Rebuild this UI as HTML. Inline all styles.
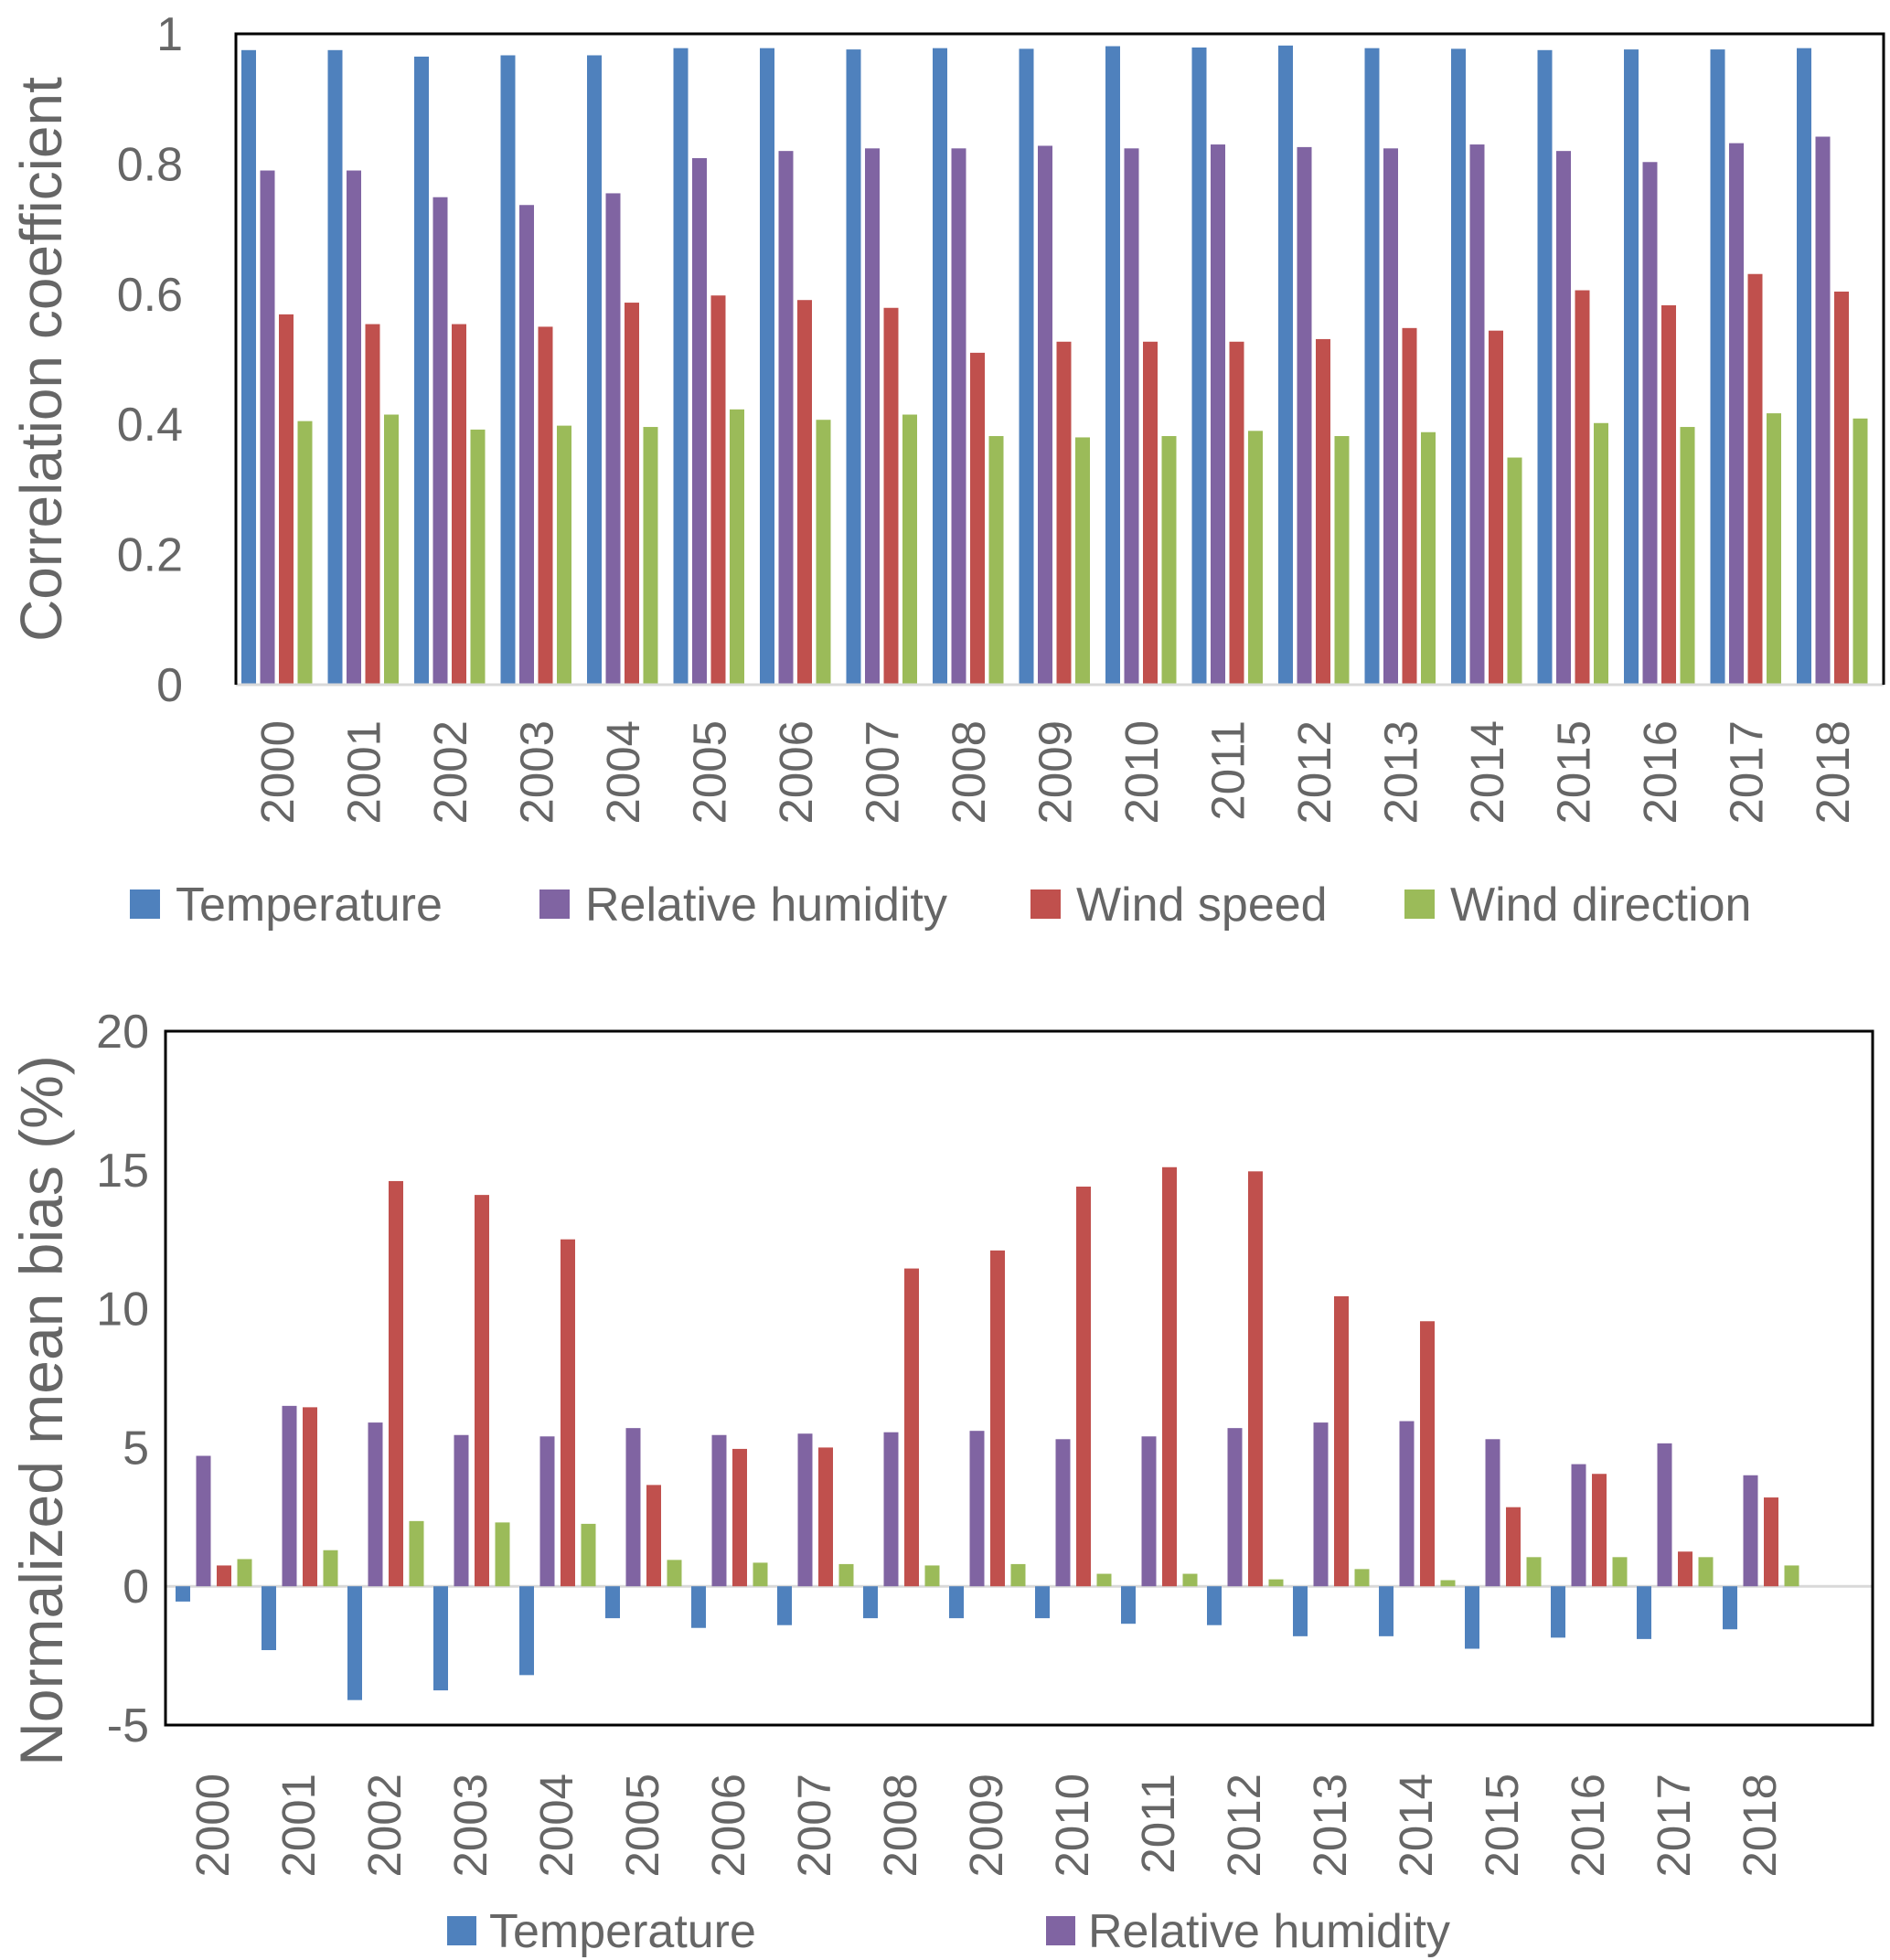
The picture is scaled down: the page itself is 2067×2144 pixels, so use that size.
<!DOCTYPE html>
<html><head><meta charset="utf-8"><style>
html,body{margin:0;padding:0;background:#fff;}
svg{display:block;font-family:"Liberation Sans",sans-serif;}
</style></head><body>
<svg id="c" width="2067" height="2144" viewBox="0 0 2067 2144" xmlns="http://www.w3.org/2000/svg"></svg>
<script>
const years=["2000","2001","2002","2003","2004","2005","2006","2007","2008","2009","2010","2011","2012","2013","2014","2015","2016","2017","2018"];
const seriesNames=["Temperature","Relative humidity","Wind speed","Wind direction"];
const corrTemp=[.975,.975,.965,.967,.967,.978,.978,.976,.978,.977,.981,.979,.982,.978,.977,.975,.976,.976,.978];
const corrRH=[.79,.79,.749,.737,.755,.809,.82,.824,.824,.828,.824,.83,.826,.824,.83,.82,.803,.832,.842];
const corrWS=[.569,.554,.554,.55,.587,.598,.591,.579,.51,.527,.527,.527,.531,.548,.544,.606,.583,.631,.604];
const corrWD=[.405,.415,.392,.398,.396,.423,.407,.415,.382,.38,.382,.39,.382,.388,.349,.402,.396,.417,.409];
const corrTicks=["0","0.2","0.4","0.6","0.8","1"];
const nmbTemp=[-.55,-2.3,-4.1,-3.75,-3.2,-1.15,-1.5,-1.4,-1.15,-1.15,-1.15,-1.35,-1.4,-1.8,-1.8,-2.25,-1.85,-1.9,-1.55];
const nmbRH=[4.7,6.5,5.9,5.45,5.4,5.7,5.45,5.5,5.55,5.6,5.3,5.4,5.7,5.9,5.95,5.3,4.4,5.15,4.0];
const nmbWS=[.75,6.45,14.6,14.1,12.5,3.65,4.95,5.0,11.45,12.1,14.4,15.1,14.95,10.45,9.55,2.85,4.05,1.25,3.2];
const nmbWD=[.98,1.3,2.35,2.3,2.25,.95,.85,.8,.75,.8,.45,.45,.25,.62,.22,1.05,1.05,1.05,.75];
const nmbTicks=["-5","0","5","10","15","20"];

const colors=["#4f81bd","#8064a2","#c0504d","#9bbb59"];
const NS="http://www.w3.org/2000/svg";
const svg=document.getElementById("c");
function el(tag,attrs,parent){const e=document.createElementNS(NS,tag);for(const k in attrs)e.setAttribute(k,attrs[k]);(parent||svg).appendChild(e);return e;}
const GRAY="#666666";

// ---------- Top chart ----------
const T={left:258,right:2060,top:37,bottom:749,min:0,max:1,step:94.5,off:6,bw:16,bp:20.5};
function yT(v){return T.bottom-(v-T.min)/(T.max-T.min)*(T.bottom-T.top);}
function xT(i,s){return T.left+i*T.step+T.off+s*T.bp;}
const g1=el("g",{});


const corrSeries=[corrTemp,corrRH,corrWS,corrWD];
corrSeries.forEach((arr,s)=>{arr.forEach((v,i)=>{
  const r=el("rect",{x:xT(i,s),y:yT(v),width:T.bw,height:yT(0)-yT(v),fill:colors[s]},g1);
  
  
});});
el("line",{x1:T.left,y1:T.bottom,x2:T.right,y2:T.bottom,stroke:"#d9d9d9","stroke-width":3},g1);
el("polyline",{points:`${T.left},${T.bottom} ${T.left},${T.top} ${T.right},${T.top} ${T.right},${T.bottom}`,fill:"none",stroke:"#000","stroke-width":3},g1);
corrTicks.forEach(t=>{
  const tx=el("text",{x:200,y:yT(parseFloat(t))+18,"text-anchor":"end","font-size":52,fill:GRAY},g1);
  tx.textContent=t;
  
  
});
years.forEach((y,i)=>{
  const cx=T.left+i*T.step+T.off+2*T.bp-2+18;
  const tx=el("text",{x:0,y:0,"text-anchor":"end","font-size":51,fill:GRAY,transform:`translate(${cx},788) rotate(-90)`},g1);
  tx.textContent=y;
  
  
});
const yt1=el("text",{x:0,y:0,"text-anchor":"middle","font-size":64,fill:GRAY,transform:"translate(67,393) rotate(-90)"},g1);
yt1.textContent="Correlation coefficient";


const leg1X=[142,590,1127,1536];
seriesNames.forEach((n,s)=>{
  const r=el("rect",{x:leg1X[s],y:973,width:33,height:32,fill:colors[s]},g1);
  
  
  const tx=el("text",{x:leg1X[s]+50,y:1007,"font-size":52,fill:GRAY},g1);
  tx.textContent=n;
  
  
});

// ---------- Bottom chart ----------
const B={left:181,right:2048,top:1128,bottom:1887,min:-5,max:20,step:94,off:11,bw:16,bp:22.5};
function yB(v){return B.bottom-(v-B.min)/(B.max-B.min)*(B.bottom-B.top);}
function xB(i,s){return B.left+i*B.step+B.off+s*B.bp;}
const g2=el("g",{});


el("line",{x1:B.left,y1:yB(0),x2:B.right,y2:yB(0),stroke:"#d9d9d9","stroke-width":3},g2);
const nmbSeries=[nmbTemp,nmbRH,nmbWS,nmbWD];
nmbSeries.forEach((arr,s)=>{arr.forEach((v,i)=>{
  const y0=yB(Math.max(v,0)),y1=yB(Math.min(v,0));
  const r=el("rect",{x:xB(i,s),y:y0,width:B.bw,height:y1-y0,fill:colors[s]},g2);
  
  
});});
el("rect",{x:B.left,y:B.top,width:B.right-B.left,height:B.bottom-B.top,fill:"none",stroke:"#000","stroke-width":3},g2);
nmbTicks.forEach(t=>{
  const tx=el("text",{x:163,y:yB(parseFloat(t))+18,"text-anchor":"end","font-size":52,fill:GRAY},g2);
  tx.textContent=t;
  
  
});
years.forEach((y,i)=>{
  const cx=B.left+i*B.step+B.off+40+18;
  const tx=el("text",{x:0,y:0,"text-anchor":"end","font-size":51,fill:GRAY,transform:`translate(${cx},1940) rotate(-90)`},g2);
  tx.textContent=y;
  
  
});
const yt2=el("text",{x:0,y:0,"text-anchor":"middle","font-size":66,fill:GRAY,transform:"translate(68,1543) rotate(-90)"},g2);
yt2.textContent="Normalized mean bias (%)";


const leg2X=[489,1144];
[0,1].forEach(s=>{
  const r=el("rect",{x:leg2X[s],y:2096,width:32,height:32,fill:colors[s]},g2);
  
  
  const tx=el("text",{x:leg2X[s]+46,y:2130,"font-size":52,fill:GRAY},g2);
  tx.textContent=seriesNames[s];
  
  
});
</script>
</body></html>
